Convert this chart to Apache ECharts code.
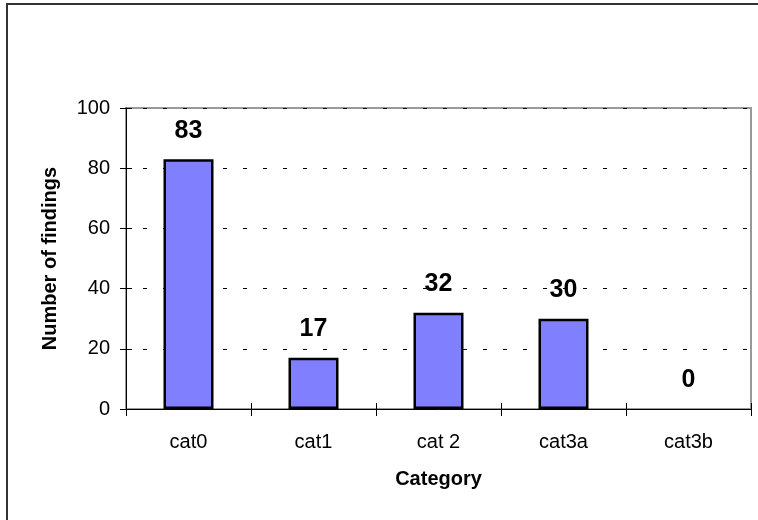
<!DOCTYPE html>
<html>
<head>
<meta charset="utf-8">
<script src="https://cdn.jsdelivr.net/npm/echarts@6/dist/echarts.min.js"></script>
<style>
html,body{margin:0;padding:0;background:#fff;}
#c{width:758px;height:520px;}
</style>
</head>
<body>
<div id="c"></div>
<script>
const categories = ['cat0', 'cat1', 'cat 2', 'cat3a', 'cat3b'];
const findings = [83, 17, 32, 30, 0];
const yTicks = [0, 20, 40, 60, 80, 100];

const FONT = '"Liberation Sans", Arial, sans-serif';
const chart = echarts.init(document.getElementById('c'), null, {renderer: 'canvas'});
chart.setOption({
  backgroundColor: '#fff',
  animation: false,
  graphic: [{
    type: 'rect', silent: true, z: 100,
    shape: {x: 7, y: 4, width: 900, height: 700},
    style: {fill: 'none', stroke: '#333', lineWidth: 2}
  }],
  grid: {left: 126, right: 7, top: 108, bottom: 111, show: true, borderColor: '#999', borderWidth: 2, backgroundColor: 'transparent'},
  xAxis: [{
    type: 'category', data: categories,
    name: 'Category', nameLocation: 'middle', nameGap: 60,
    nameTextStyle: {fontFamily: FONT, fontSize: 20, fontWeight: 'bold', color: '#000'},
    axisLine: {show: true, lineStyle: {color: '#000', width: 1}},
    axisTick: {show: true, alignWithLabel: false, length: 7, lineStyle: {color: '#000'}},
    axisLabel: {fontFamily: FONT, fontSize: 20, color: '#000', margin: 23},
    splitLine: {show: false}
  }, {
    type: 'category', data: categories, position: 'bottom',
    axisLine: {show: false},
    axisTick: {show: true, inside: true, length: 6, lineStyle: {color: '#000'}},
    axisLabel: {show: false}, splitLine: {show: false}
  }],
  yAxis: [{
    type: 'value', min: yTicks[0], max: yTicks[yTicks.length - 1], interval: 20,
    name: 'Number of findings', nameLocation: 'middle', nameGap: 66, nameRotate: 90,
    nameTextStyle: {fontFamily: FONT, fontSize: 20, fontWeight: 'bold', color: '#000'},
    axisLine: {show: true, lineStyle: {color: '#000', width: 1}},
    axisTick: {show: true, length: 6, lineStyle: {color: '#000'}},
    axisLabel: {fontFamily: FONT, fontSize: 20, color: '#000', margin: 16},
    splitLine: {show: true, lineStyle: {color: '#000', width: 1, type: [4, 16], dashOffset: 3}}
  }, {
    type: 'value', min: yTicks[0], max: yTicks[yTicks.length - 1], interval: 20, position: 'left',
    axisLine: {show: false},
    axisTick: {show: true, inside: true, length: 6, lineStyle: {color: '#000'}},
    axisLabel: {show: false}, splitLine: {show: false}
  }],
  series: [{
    type: 'bar', xAxisIndex: 0, yAxisIndex: 0, barWidth: 50,
    data: findings.map(v => v === 0 ? {value: v, itemStyle: {borderWidth: 0}} : v),
    itemStyle: {color: '#8080FF', borderColor: '#000', borderWidth: 2.5},
    label: {show: true, position: 'top', distance: 16, fontFamily: FONT, fontSize: 25, fontWeight: 'bold', color: '#000'}
  }]
});
</script>
</body>
</html>
